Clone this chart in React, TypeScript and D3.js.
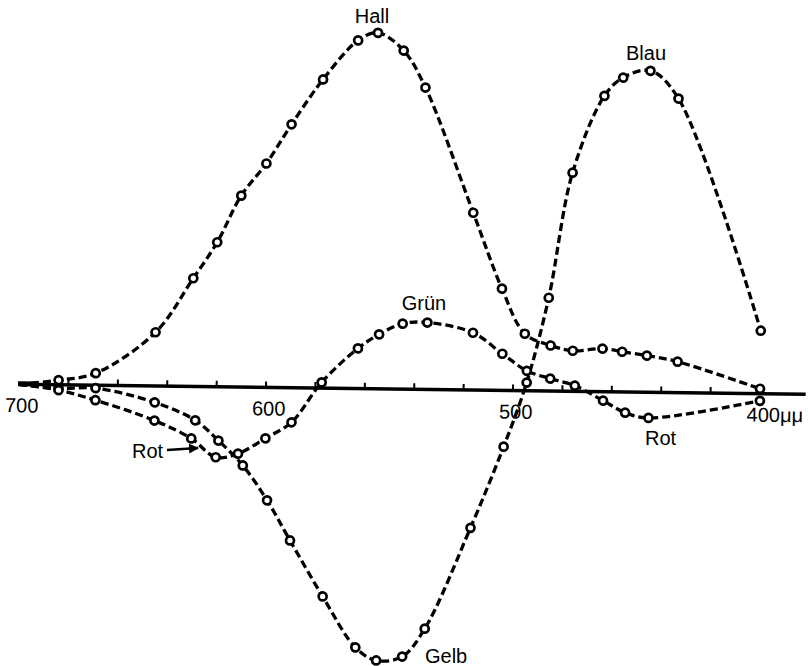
import React from "react";
import * as d3 from "d3";

// Wavelengths (mμ) and response values (Hall peak = 100)
const hallWl = [700, 684, 669, 645, 630, 620.5, 611, 601, 591, 578.5, 564.5, 556.5, 546, 537, 517, 505, 495.5, 485, 476, 464, 456, 446, 433.5, 400];
const hallVal = [0, 1.3, 3.4, 15.1, 30.4, 40.6, 53.8, 62.9, 74, 86.7, 97.8, 100, 95.1, 84.8, 49.8, 28.6, 16, 12.8, 11.4, 12.1, 11.3, 10.3, 8.7, 1.4];

const gbWl = [700, 684, 669, 645, 628.5, 619, 609, 599, 589.5, 576, 562.5, 554, 543.5, 534.5, 516.5, 503.5, 494.5, 486, 477, 464.5, 457, 446, 434.5, 400];
const gbVal = [0, -1.0, -0.8, -4.6, -9.5, -15.1, -22, -31.7, -42.9, -58.5, -72.7, -76.3, -75.1, -67.2, -38.7, -15.8, 2.3, 26.2, 61.4, 83.1, 88.3, 90.3, 82.6, 17.7];

const rgWl = [700, 684, 669, 645, 630, 620, 611, 600, 589.5, 577.5, 563, 554.5, 545, 535, 516.5, 504.5, 494.5, 485, 475, 463.5, 454.5, 445, 400];
const rgVal = [0, -1.5, -4.2, -9.7, -14.6, -19.8, -18.7, -14.3, -9.7, 1.6, 11.3, 15.3, 18.4, 18.8, 16.1, 10.3, 5.6, 3.5, 1.6, -2.5, -5.8, -7.2, -2.0];

const tickWl = [680, 660, 640, 620, 600, 580, 560, 540, 520, 500, 480, 460, 440, 420, 400];
const labelWl = [700, 600, 500, 400];
const labelText = ["700", "600", "500", "400μμ"];

const FONT = "'Liberation Sans', Arial, Helvetica, sans-serif";

export default function App() {
  const W = 808;
  const H = 666;
  const x = d3.scaleLinear().domain([700, 400]).range([19, 760]);
  const y = d3.scaleLinear().domain([0, 100]).range([389, 33]);
  const line = d3
    .line<[number, number]>()
    .x((d) => x(d[0]))
    .y((d) => y(d[1]))
    .curve(d3.curveCatmullRom.alpha(0.5));

  const series = [
    { wl: hallWl, val: hallVal },
    { wl: gbWl, val: gbVal },
    { wl: rgWl, val: rgVal },
  ];

  const y0 = y(0);

  return (
    <svg
      width={W}
      height={H}
      viewBox={`0 0 ${W} ${H}`}
      style={{ position: "absolute", left: 0, top: 0, background: "#fff" }}
    >
      <rect x={0} y={0} width={W} height={H} fill="#fff" />
      <defs>
        <marker id="arr" viewBox="0 0 10 10" refX="9" refY="5" markerWidth="4" markerHeight="4" orient="auto">
          <path d="M0,0 L10,5 L0,10 z" fill="#000" />
        </marker>
      </defs>
      <g transform="rotate(0.73, 390, 389)">
        {/* axis */}
        <line x1={x(700) - 1} x2={x(381.5)} y1={y0} y2={y0} stroke="#000" strokeWidth={3.5} />
        <rect x={x(700) - 1} y={y0 - 3} width={20} height={5} fill="#000" />
        {tickWl.map((t) => (
          <line key={t} x1={x(t)} x2={x(t)} y1={y0} y2={y0 - 6} stroke="#000" strokeWidth={2} />
        ))}
        {labelWl.map((t, i) => (
          <text
            key={t}
            x={i === labelWl.length - 1 ? x(t) - 13 : x(t) + 3}
            y={y0 + 28}
            textAnchor={i === labelWl.length - 1 ? "start" : "middle"}
            fontFamily={FONT}
            fontSize={20}
            fill="#000"
          >
            {labelText[i]}
          </text>
        ))}
        {/* curves */}
        {series.map((s, si) => {
          const pts: [number, number][] = s.wl.map((w, i) => [w, s.val[i]]);
          return (
            <g key={si}>
              <path
                d={line(pts) || ""}
                fill="none"
                stroke="#000"
                strokeWidth={3.3}
                strokeDasharray="8 4"
              />
              {pts.slice(1).map((p, i) => (
                <circle
                  key={i}
                  cx={x(p[0])}
                  cy={y(p[1])}
                  r={4}
                  fill="#fff"
                  stroke="#000"
                  strokeWidth={2.7}
                />
              ))}
            </g>
          );
        })}
      </g>
      {/* curve labels */}
      <g fontFamily={FONT} fontSize={20} fill="#000">
        <text x={372} y={23} textAnchor="middle">Hall</text>
        <text x={646} y={60} textAnchor="middle">Blau</text>
        <text x={424} y={310} textAnchor="middle">Grün</text>
        <text x={425} y={663}>Gelb</text>
        <text x={132} y={458}>Rot</text>
        <text x={645} y={445}>Rot</text>
      </g>
      <line x1={167} y1={450} x2={198} y2={448} stroke="#000" strokeWidth={2.5} markerEnd="url(#arr)" />
    </svg>
  );
}
